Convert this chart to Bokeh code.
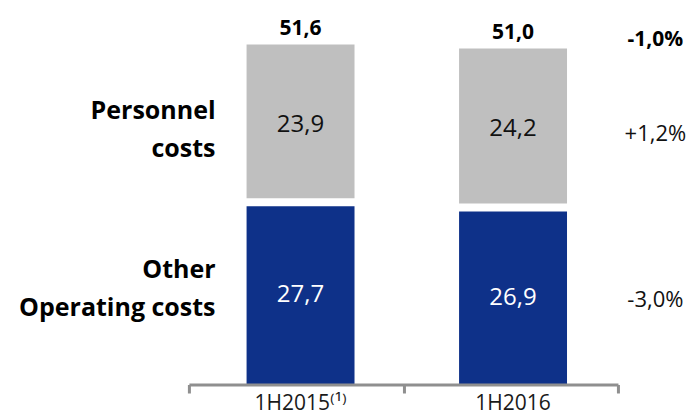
from bokeh.plotting import figure
from bokeh.models import Range1d
from bokeh.core.properties import value
from bokeh.embed import file_html
from bokeh.resources import INLINE

# ---- data ----
categories = ["1H2015\u207d\u00b9\u207e", "1H2016"]
other_costs = [27.7, 26.9]
personnel_costs = [23.9, 24.2]
totals = [51.6, 51.0]
changes = ["-1,0%", "+1,2%", "-3,0%"]
series_names = ["Personnel\ncosts", "Other\nOperating costs"]


def fmt(v):
    return f"{v:.1f}".replace(".", ",")


BLUE = "#0E3189"
GRAY = "#BFBFBF"
AXIS = "#8F8F8F"
FONT = value("Open Sans")

xs = [1, 2]
bar_w = 0.508

p = figure(width=687, height=418, output_backend="svg", toolbar_location=None,
           x_range=Range1d(-0.412, 2.821), y_range=Range1d(-5.08, 58.26),
           x_axis_location=None, y_axis_location=None, min_border=0)
p.grid.visible = False
p.outline_line_color = None
p.background_fill_color = "white"

# stacked bars
p.vbar(x=xs, width=bar_w, bottom=0, top=other_costs, fill_color=BLUE, line_color=None)
p.vbar(x=xs, width=bar_w, bottom=other_costs, top=totals, fill_color=GRAY, line_color=None)
# white gap between segments
p.segment(x0=[x - bar_w / 2 - 0.01 for x in xs], y0=other_costs,
          x1=[x + bar_w / 2 + 0.01 for x in xs], y1=other_costs,
          line_color="white", line_width=8)

# value labels
p.text(x=xs, y=[o / 2 for o in other_costs], text=[fmt(v) for v in other_costs],
       text_color="white", text_align="center", text_baseline="middle",
       text_font=FONT, text_font_size="24px")
p.text(x=xs, y=[o + q / 2 for o, q in zip(other_costs, personnel_costs)],
       text=[fmt(v) for v in personnel_costs],
       text_color="#111111", text_align="center", text_baseline="middle",
       text_font=FONT, text_font_size="24px")
p.text(x=xs, y=totals, y_offset=-17, text=[fmt(v) for v in totals],
       text_color="#000000", text_align="center", text_baseline="middle",
       text_font=FONT, text_font_size="21px", text_font_style="bold")

# change labels (right)
x_pct = 2.670
p.text(x=[x_pct], y=[totals[1]], y_offset=-10, text=[changes[0]],
       text_color="#000000", text_align="center", text_baseline="middle",
       text_font=FONT, text_font_size="21px", text_font_style="bold")
p.text(x=[x_pct, x_pct],
       y=[other_costs[1] + personnel_costs[1] / 2, other_costs[1] / 2],
       y_offset=[4, 2],
       text=changes[1:], text_color="#111111", text_align="center",
       text_baseline="middle", text_font=FONT, text_font_size="22px")

# series names (left)
p.text(x=[0.600, 0.600],
       y=[other_costs[0] + personnel_costs[0] / 2, other_costs[0] / 2],
       y_offset=[5, -7],
       text=series_names, text_color="#000000", text_align="right",
       text_baseline="middle", text_font=FONT, text_font_size="25px",
       text_font_style="bold", text_line_height=1.12)

# category axis
edges = [0.477, 1.489, 2.496]
p.segment(x0=[edges[0]], y0=[0], x1=[edges[-1]], y1=[0], line_color=AXIS, line_width=3)
p.segment(x0=edges, y0=[0] * 3, x1=edges, y1=[-1.29] * 3, line_color=AXIS, line_width=3)
p.text(x=xs, y=[-2.65, -2.65], text=categories, text_color="#1a1a1a",
       text_align="center", text_baseline="middle",
       text_font=FONT, text_font_size="21px")

open("out.html", "w").write(file_html(p, INLINE))
